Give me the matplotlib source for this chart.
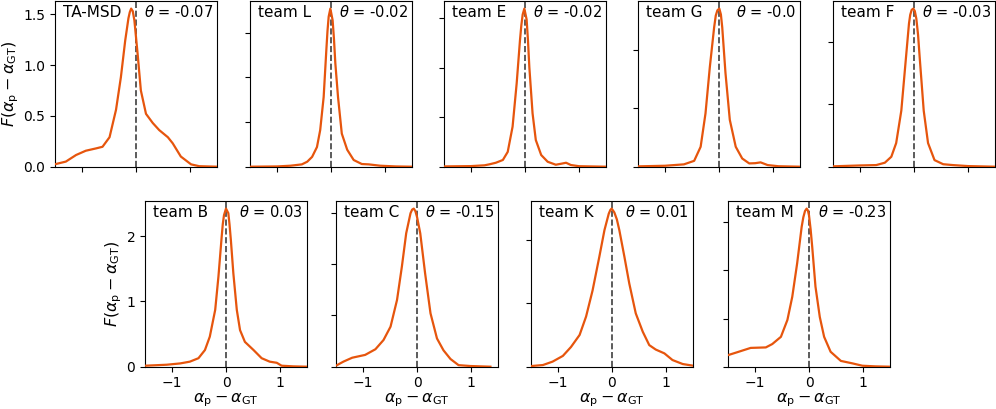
import numpy as np
import matplotlib
matplotlib.use("Agg")
import matplotlib.pyplot as plt
from matplotlib.ticker import MaxNLocator

# ---- data (difference alpha_p - alpha_GT, density) ----
teams = ["TA-MSD", "team L", "team E", "team G", "team F",
         "team B", "team C", "team K", "team M"]
thetas = ["-0.07", "-0.02", "-0.02", "-0.0", "-0.03",
          "0.03", "-0.15", "0.01", "-0.23"]

x_tamsd = [-1.51, -1.30, -1.11, -0.93, -0.74, -0.62, -0.49, -0.37, -0.28, -0.20, -0.14, -0.115,
           -0.09, -0.06, -0.03, 0.03, 0.09, 0.185, 0.31, 0.43, 0.59, 0.68, 0.83, 1.02, 1.17, 1.5]
y_tamsd = [0.023, 0.05, 0.115, 0.157, 0.18, 0.196, 0.29, 0.56, 0.88, 1.24, 1.46, 1.52,
           1.555, 1.53, 1.44, 1.11, 0.75, 0.52, 0.43, 0.36, 0.29, 0.23, 0.10, 0.023, 0.005, 0.0]

x_L = [-1.5, -1.0, -0.75, -0.54, -0.44, -0.35, -0.26, -0.20, -0.136, -0.086, -0.065, -0.043,
       -0.012, 0.03, 0.055, 0.08, 0.13, 0.20, 0.30, 0.42, 0.57, 0.70, 0.91, 1.2, 1.5]
y_L = [0.0, 0.003, 0.011, 0.026, 0.056, 0.11, 0.22, 0.41, 0.78, 1.31, 1.52, 1.68,
       1.77, 1.64, 1.43, 1.16, 0.78, 0.37, 0.19, 0.075, 0.03, 0.026, 0.011, 0.003, 0.0]

x_E = [-1.5, -1.0, -0.75, -0.66, -0.54, -0.41, -0.32, -0.23, -0.154, -0.093, -0.068, -0.043,
       -0.012, 0.03, 0.055, 0.08, 0.14, 0.20, 0.30, 0.42, 0.57, 0.67, 0.76, 0.85, 1.0, 1.5]
y_E = [0.003, 0.006, 0.014, 0.024, 0.04, 0.068, 0.15, 0.405, 0.845, 1.28, 1.43, 1.54,
       1.60, 1.49, 1.28, 1.01, 0.54, 0.27, 0.118, 0.05, 0.02, 0.03, 0.04, 0.017, 0.005, 0.0]

x_G = [-1.5, -1.0, -0.65, -0.46, -0.34, -0.25, -0.17, -0.09, -0.06, -0.03,
       0.006, 0.035, 0.06, 0.12, 0.20, 0.31, 0.43, 0.56, 0.67, 0.77, 0.90, 1.1, 1.5]
y_G = [0.003, 0.008, 0.02, 0.05, 0.17, 0.455, 0.85, 1.19, 1.29, 1.335,
       1.35, 1.30, 1.19, 0.80, 0.40, 0.17, 0.07, 0.028, 0.03, 0.037, 0.014, 0.004, 0.0]

x_F = [-1.5, -1.0, -0.70, -0.54, -0.42, -0.33, -0.235, -0.154, -0.093, -0.07, -0.043,
       -0.012, 0.015, 0.043, 0.075, 0.105, 0.18, 0.26, 0.38, 0.54, 0.72, 1.0, 1.5]
y_F = [0.003, 0.01, 0.013, 0.032, 0.08, 0.19, 0.45, 0.85, 1.15, 1.22, 1.26,
       1.27, 1.25, 1.19, 1.06, 0.88, 0.45, 0.19, 0.053, 0.02, 0.013, 0.005, 0.0]

x_B = [-1.5, -1.10, -0.85, -0.67, -0.51, -0.39, -0.30, -0.20, -0.14, -0.08, -0.06, -0.037,
       0.0, 0.043, 0.065, 0.09, 0.136, 0.20, 0.26, 0.35, 0.51, 0.66, 0.81, 0.94, 1.03, 1.25, 1.5]
y_B = [0.015, 0.03, 0.05, 0.077, 0.13, 0.255, 0.46, 0.87, 1.38, 1.99, 2.18, 2.32,
       2.42, 2.35, 2.18, 1.94, 1.43, 0.87, 0.56, 0.38, 0.255, 0.13, 0.077, 0.06, 0.015, 0.005, 0.0]

x_C = [-1.5, -1.36, -1.20, -0.96, -0.77, -0.62, -0.49, -0.37, -0.28, -0.20, -0.12, -0.09,
       -0.06, -0.03, 0.0, 0.06, 0.15, 0.25, 0.37, 0.49, 0.62, 0.77, 0.99, 1.36]
y_C = [0.02, 0.10, 0.175, 0.23, 0.34, 0.52, 0.78, 1.30, 1.95, 2.60, 2.99, 3.06,
       3.08, 3.03, 2.92, 2.60, 1.82, 1.04, 0.55, 0.32, 0.15, 0.03, 0.013, 0.0]

x_K = [-1.5, -1.28, -1.10, -0.91, -0.76, -0.60, -0.48, -0.36, -0.235, -0.14, -0.06, -0.03,
       -0.006, 0.043, 0.09, 0.136, 0.23, 0.32, 0.44, 0.57, 0.69, 0.81, 0.97, 1.12, 1.31, 1.5]
y_K = [0.01, 0.026, 0.08, 0.17, 0.31, 0.50, 0.79, 1.20, 1.73, 2.15, 2.41, 2.47,
       2.49, 2.43, 2.32, 2.15, 1.73, 1.31, 0.84, 0.55, 0.34, 0.27, 0.21, 0.105, 0.042, 0.016]

x_M = [-1.5, -1.33, -1.08, -0.80, -0.68, -0.52, -0.40, -0.31, -0.22, -0.136, -0.105, -0.074,
       -0.043, -0.02, 0.0, 0.03, 0.06, 0.12, 0.20, 0.28, 0.40, 0.59, 0.80, 0.99, 1.23, 1.5]
y_M = [0.24, 0.30, 0.39, 0.40, 0.47, 0.62, 0.97, 1.45, 2.14, 2.90, 3.10, 3.23,
       3.28, 3.24, 3.14, 2.85, 2.48, 1.66, 1.03, 0.62, 0.31, 0.12, 0.07, 0.02, 0.007, 0.0]

xs = [x_tamsd, x_L, x_E, x_G, x_F, x_B, x_C, x_K, x_M]
ys = [y_tamsd, y_L, y_E, y_G, y_F, y_B, y_C, y_K, y_M]

# ---- layout (pixels in a 996x409 figure) ----
W, H = 996, 409
fig = plt.figure(figsize=(W / 100, H / 100), dpi=100)

top_left = [55, 250, 444, 638, 833]
bot_left = [145, 336, 531, 728]
aw, ah = 162, 166
axes = []
for l in top_left:
    axes.append(fig.add_axes([l / W, (H - 166.7) / H, aw / W, ah / H]))
for l in bot_left:
    axes.append(fig.add_axes([l / W, (H - 366.7) / H, aw / W, ah / H]))

line_col = "#e6550d"
ylab = r"$F(\alpha_\mathrm{p} - \alpha_\mathrm{GT})$"
xlab = r"$\alpha_\mathrm{p} - \alpha_\mathrm{GT}$"

for i, ax in enumerate(axes):
    ax.axvline(0, color="#404040", ls="--", lw=1.2, zorder=1)
    ax.plot(xs[i], ys[i], color=line_col, lw=1.6, zorder=4)
    ax.set_xlim(-1.5, 1.5)
    ax.set_ylim(0, 1.05 * max(ys[i]))
    ax.set_xticks([-1, 0, 1])
    ax.yaxis.set_major_locator(MaxNLocator(nbins=4, steps=[1, 5, 10]))
    ax.tick_params(labelsize=10)
    ax.text(0.05, 0.93, teams[i], transform=ax.transAxes, fontsize=11,
            ha="left", va="center", zorder=2,
            bbox=dict(facecolor="white", edgecolor="none", pad=1.5))
    ax.text(0.975, 0.93, r"$\theta$ = " + thetas[i], transform=ax.transAxes,
            fontsize=10.5, ha="right", va="center", zorder=2,
            bbox=dict(facecolor="white", edgecolor="none", pad=1.5))
    if i < 5:
        ax.set_xticklabels([])
    else:
        ax.set_xlabel(xlab, fontsize=11.5, labelpad=0.5)
    if i in (0, 5):
        ax.set_ylabel(ylab, fontsize=11.5, labelpad=1.5)
    else:
        ax.set_yticklabels([])

fig.savefig("out.png", dpi=100)
